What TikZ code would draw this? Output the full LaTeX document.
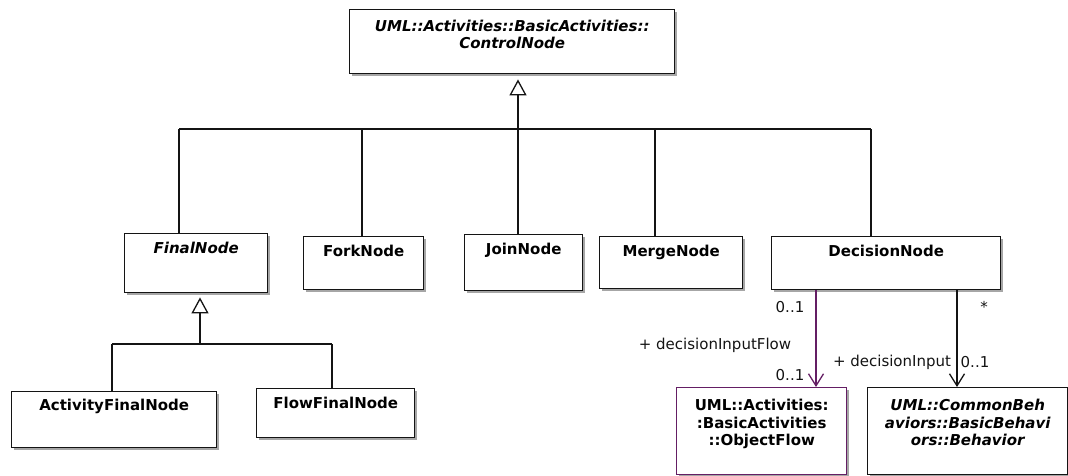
\documentclass[tikz,border=0pt]{standalone}
\usepackage{fontspec}
\setmainfont{DejaVu Sans}
\usetikzlibrary{arrows.meta,shadows}
\definecolor{umlpurple}{RGB}{100,30,100}
\definecolor{umlline}{RGB}{20,20,20}
\newcommand{\boxtitlefont}{\bfseries\fontsize{15}{17.5}\selectfont}
\newcommand{\edgelabelfont}{\fontsize{15}{18}\selectfont}
\begin{document}
\begin{tikzpicture}[x=1pt,y=-1pt,
  box/.style={draw=umlline, line width=1.4pt, fill=white, rectangle, anchor=north west,
    inner xsep=0pt, inner ysep=0pt, align=center, font=\boxtitlefont,
    drop shadow={shadow xshift=2pt, shadow yshift=-2pt, fill=black!35, opacity=1}},
  abs/.style={font=\boxtitlefont\itshape},
  dims/.style n args={3}{minimum width=#1, text height=#2, text depth=#3},
  lbl/.style={font=\edgelabelfont, inner sep=0pt, text=umlline},
  edge/.style={draw=umlline, line width=1.3pt},
  gen/.style={edge, -{Triangle[open, length=16pt, width=17pt, fill=white]}, shorten >=5pt},
  assoc/.style={edge, -{Straight Barb[length=12pt, width=15pt]}}
]
\useasboundingbox (0,0) rectangle (1068,476);

% classes
\node[box, abs, dims={325pt}{39pt}{25pt}] (ctrl) at (349,9) {UML::Activities::BasicActivities::\\ControlNode};
\node[box, abs, dims={143pt}{20pt}{39pt}] (final) at (124,233) {FinalNode};
\node[box, dims={120pt}{20pt}{33pt}] (fork) at (303,236) {ForkNode};
\node[box, dims={118pt}{20pt}{36pt}] (join) at (464,234) {JoinNode};
\node[box, dims={143pt}{20pt}{32pt}] (merge) at (599,236) {MergeNode};
\node[box, dims={229pt}{20pt}{33pt}] (decision) at (771,236) {DecisionNode};
\node[box, dims={205pt}{19pt}{37pt}] (actfinal) at (11,391) {ActivityFinalNode};
\node[box, dims={158pt}{20pt}{29pt}] (flowfinal) at (256,388) {FlowFinalNode};
\node[box, draw=umlpurple, dims={170pt}{58pt}{29pt}] (objflow) at (676,387) {UML::Activities:\\:BasicActivities\\::ObjectFlow};
\node[box, abs, dims={200pt}{58pt}{29pt}] (behavior) at (867,387) {UML::CommonBeh\\aviors::BasicBehavi\\ors::Behavior};

% generalization tree to ControlNode
\coordinate (busF) at (179,129);
\coordinate (busK) at (362,129);
\coordinate (busJ) at (518,129);
\coordinate (busM) at (655,129);
\coordinate (busD) at (871,129);
\draw[edge] (busF) -- (busD);
\draw[edge] (final.north -| busF) -- (busF);
\draw[edge] (fork.north -| busK) -- (busK);
\draw[edge] (merge.north -| busM) -- (busM);
\draw[edge] (decision.north -| busD) -- (busD);
\draw[gen] (join.north -| busJ) -- (ctrl.south -| busJ);

% generalization tree to FinalNode
\coordinate (busA) at (112,344);
\coordinate (busW) at (332,344);
\coordinate (busFin) at (200,344);
\draw[edge] (busA) -- (busW);
\draw[edge] (actfinal.north -| busA) -- (busA);
\draw[edge] (flowfinal.north -| busW) -- (busW);
\draw[gen, shorten >=4pt] (busFin) -- (final.south -| busFin);

% associations
\coordinate (pX) at (816,300);
\coordinate (bX) at (957,300);
\draw[assoc, draw=umlpurple] (decision.south -| pX) -- (objflow.north -| pX);
\draw[assoc] (decision.south -| bX) -- (behavior.north -| bX);

% association labels
\node[lbl] (m1) at (790,307) {0..1};
\node[lbl] (r1) at (715,345) {+ decisionInputFlow};
\node[lbl] (m2) at (790,375) {0..1};
\node[lbl] (m3) at (984,307) {*};
\node[lbl] (r2) at (892,362) {+ decisionInput};
\node[lbl] (m4) at (975,362) {0..1};
\end{tikzpicture}
\end{document}
